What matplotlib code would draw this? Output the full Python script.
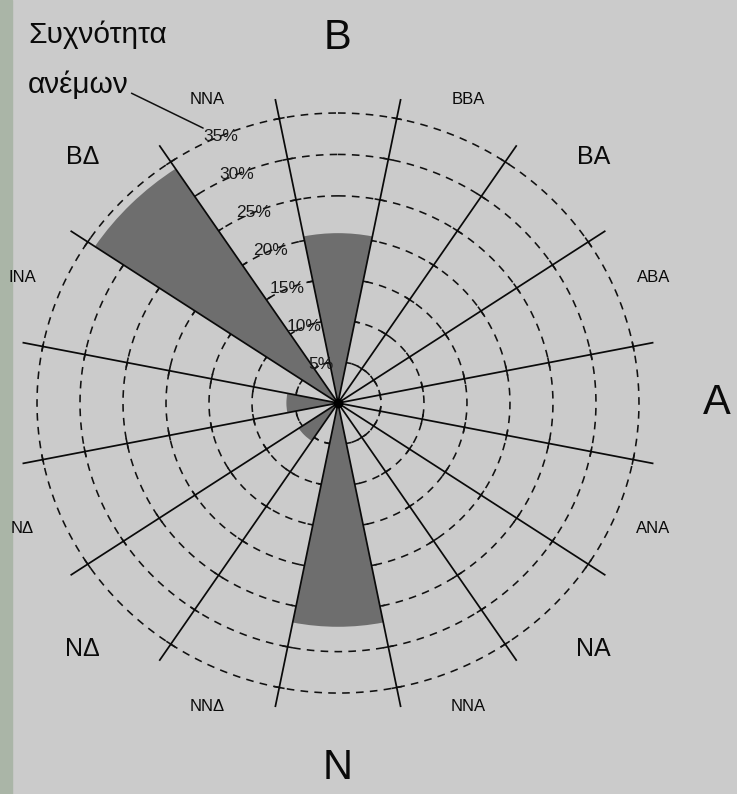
import numpy as np
import matplotlib
matplotlib.use('Agg')
import matplotlib.pyplot as plt
from matplotlib.patches import Rectangle

plt.rcParams['font.family'] = ['Liberation Sans', 'DejaVu Sans']
plt.rcParams['lines.scale_dashes'] = False

# 16 wind directions, clockwise from north (labels as printed on the chart)
directions = ['B', 'BBA', 'BA', 'ABA', 'A', 'ANA', 'NA', 'NNA',
              'N', 'NNΔ', 'NΔ', 'NΔ', '', 'INA', 'ΒΔ', 'NNA']
# wind frequency per direction (%)
frequency = [20.5, 0, 0, 0, 0, 0, 0, 0,
             27, 0, 5.5, 0, 6, 0, 34, 0]
# dashed rings and their labels
rings = [5, 10, 15, 20, 25, 30, 35]
ring_labels = ['5%', '10%', '15%', '20%', '25%', '30%', '35%']

n = len(directions)
step = 360.0 / n
centers = np.deg2rad(np.arange(n) * step)
bounds = np.deg2rad(np.arange(n) * step + step / 2)
rmax = 38.0
rline = 37.3

fig = plt.figure(figsize=(7.37, 7.94), dpi=100)
fig.patch.set_facecolor('#cbcbcb')
# greenish strip on the left edge
fig.add_artist(Rectangle((0, 0), 12 / 737, 1, transform=fig.transFigure,
                         color='#aab5a7', zorder=0))

ax = fig.add_axes([0.0152, 0.0958, 0.8868, 0.7932], projection='polar')
ax.set_aspect('auto')
ax.set_theta_zero_location('N')
ax.set_theta_direction(-1)
ax.set_ylim(0, rmax)
ax.patch.set_alpha(0)
ax.grid(False)
ax.set_xticks([])
ax.set_yticks([])
ax.spines['polar'].set_visible(False)

# dashed rings
t = np.linspace(0, 2 * np.pi, 721)
for r in rings:
    ax.plot(t, np.full_like(t, r), color='#111111', lw=1.15,
            linestyle=(0, (5.5, 4.5)), zorder=1)
    # small ticks where the ring meets a radial line
    d = 4.5 / (r * 8.45)
    tt, rr = [], []
    for b in bounds:
        tt += [b - d, b + d, np.nan]
        rr += [r, r, np.nan]
    ax.plot(tt, rr, color='#111111', lw=1.15, zorder=1)

# frequency wedges
ax.bar(centers, frequency, width=np.deg2rad(step), bottom=0,
       color='#6e6e6e', edgecolor='none', zorder=2)

# radial sector boundaries
for b in bounds:
    ax.plot([b, b], [0, rline], color='#0a0a0a', lw=1.25, zorder=3)
ax.plot([0], [0], 'o', color='k', ms=6, zorder=4)

# direction labels
for i, lab in enumerate(directions):
    if i % 4 == 0:
        size, r = 30, 44.0
    elif i % 2 == 0:
        size, r = 18, 42.0
    else:
        size, r = 12, 39.7
    ax.text(centers[i], r, lab, fontsize=size, ha='center', va='center',
            color='#0a0a0a', clip_on=False)

# ring labels
for r, lab in zip(rings, ring_labels):
    ax.text(np.deg2rad(-23), r, lab, fontsize=12.5, ha='center', va='center',
            color='#1a1a1a', zorder=5)

# title with leader line to the outer ring label
fig.text(28 / 737, 1 - 43 / 794, 'Συχνότητα', fontsize=21.5, ha='left',
         va='baseline', color='#0a0a0a')
ax.annotate('ανέμων', xy=(np.deg2rad(-25.3), 36.7), xycoords='data',
            xytext=(28 / 737, 1 - 93 / 794), textcoords='figure fraction',
            fontsize=21.5, ha='left', va='baseline', color='#0a0a0a',
            arrowprops=dict(arrowstyle='-', lw=1.1, color='#111111',
                            shrinkA=0, shrinkB=0, relpos=(1.0, 0.25)))

plt.savefig('out.png', dpi=100, facecolor=fig.get_facecolor())
